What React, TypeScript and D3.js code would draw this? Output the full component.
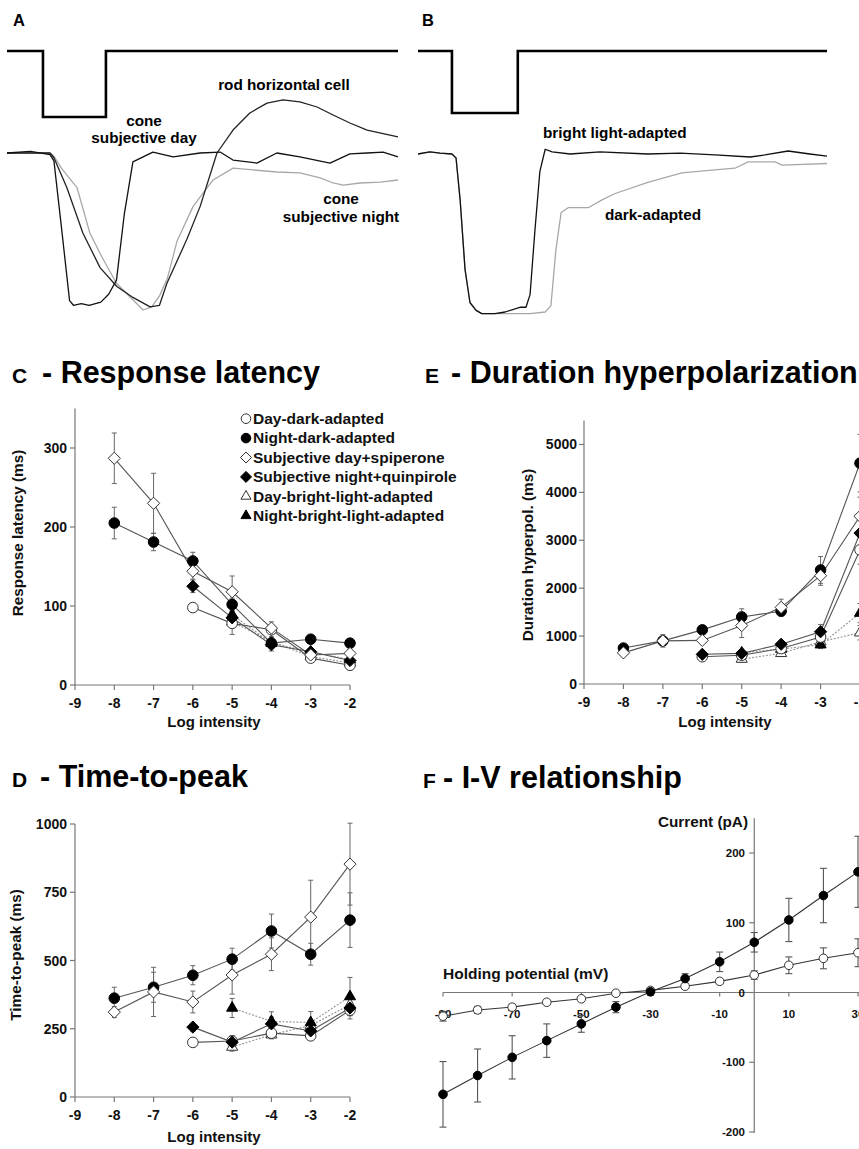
import React from "react";
import * as d3 from "d3";

const FONT = '"Liberation Sans", Arial, Helvetica, sans-serif';

// ---------------- Panels A & B (t: % of sweep, v: % of max hyperpolarization)
const STIM_A = [
  { t: 0, level: 1 }, { t: 9.2, level: 1 }, { t: 9.2, level: 0 },
  { t: 25.3, level: 0 }, { t: 25.3, level: 1 }, { t: 100, level: 1 },
];
const CONE_DAY: [number, number][] = [
  [0, 0], [6, 1], [11, -1], [12, -5], [14, -49], [16, -94], [17, -97], [19, -96], [21, -97],
  [24, -95], [26, -90], [28, -81], [30, -39], [32.2, -5.7], [37.3, 0.6], [42.5, -2.5], [49.4, 0],
  [54.5, 0.6], [57.8, -4.5], [63.9, -6.4], [69, 0], [74.9, -2.5], [82.6, -6.4], [87.7, -0.6],
  [92.1, 0], [96.2, 0.6], [100, -2.5],
];
const CONE_NIGHT: [number, number][] = [
  [0, 0], [11, 0], [12, -2], [14, -10], [17.9, -22], [21.2, -51], [24, -65], [28, -83], [32, -93],
  [34.8, -100], [37, -98], [39, -91], [41, -80], [43.5, -56], [47.6, -34], [51.2, -22], [52.7, -17.2],
  [57.8, -9.6], [63, -10.8], [69, -12.1], [74.9, -12.7], [80.1, -15.9], [83.4, -19.1], [86, -20.4],
  [90.3, -19.1], [95.4, -18.5], [100, -17.2],
];
const ROD_HC: [number, number][] = [
  [0, 0], [11, 0], [12, -3], [15.3, -22], [19.4, -51], [23.8, -73], [28.1, -85], [32.2, -92],
  [36.6, -98], [39, -97], [40.9, -83], [46, -55], [49.4, -34], [53.7, 0], [57.8, 14.6], [62.1, 25.5],
  [66.5, 31.8], [70.6, 33.8], [74.9, 32.5], [79.3, 29.3], [83.4, 24.2], [87.7, 19.1], [92.1, 14.6],
  [100, 10.2],
];
const STIM_B = [
  { t: 0, level: 1 }, { t: 8.3, level: 1 }, { t: 8.3, level: 0 },
  { t: 24.4, level: 0 }, { t: 24.4, level: 1 }, { t: 100, level: 1 },
];
const B_ONSET: [number, number][] = [
  [0, 0], [2.9, 1.3], [5.4, 0.6], [8.3, 0], [9.3, -2.5], [10.3, -29], [11.5, -73], [12.7, -94],
  [14.2, -99], [15.6, -101],
];
const BRIGHT_ADAPTED: [number, number][] = [
  ...B_ONSET, [18.8, -101], [21.3, -100], [24.9, -97], [26.4, -97], [27.4, -89], [28.6, -48],
  [29.8, -11], [31.1, 3], [32.8, 1.3], [37.2, 0], [44.5, 1.3], [56.2, 0], [64.1, 0.6], [72.6, -0.6],
  [81.2, -1.9], [84.8, -0.6], [90.5, 1.9], [95.8, 0], [100, -1.3],
];
const DARK_ADAPTED: [number, number][] = [
  ...B_ONSET, [20, -101], [27.4, -101], [31.1, -100], [32.5, -96], [33.7, -61], [35, -37],
  [36.7, -34], [41.6, -34], [45, -29], [48.2, -25], [56.2, -18], [64.5, -12], [72.6, -10],
  [77.5, -9], [80.7, -5], [87.3, -5], [89, -7], [100, -6],
];

// ---------------- Panels C, D, E
const LOG_I = [-8, -7, -6, -5, -4, -3, -2];
const X_TICKS = [-9, -8, -7, -6, -5, -4, -3, -2];
const LEGEND_LABELS = [
  "Day-dark-adapted", "Night-dark-adapted", "Subjective day+spiperone",
  "Subjective night+quinpirole", "Day-bright-light-adapted", "Night-bright-light-adapted",
];
type Kind = "circleOpen" | "circleFilled" | "diamondOpen" | "diamondFilled" | "triangleOpen" | "triangleFilled";
const KINDS: Kind[] = ["circleOpen", "circleFilled", "diamondOpen", "diamondFilled", "triangleOpen", "triangleFilled"];
const DOTTED = [false, false, false, false, true, true];

// C - Response latency (ms)
const LAT_DAY_DARK = [null, null, 98, 78, 70, 34, 25];
const LAT_NIGHT_DARK = [205, 181, 157, 102, 53, 58, 53];
const LAT_SPIP = [287, 230, 144, 118, 72, 38, 40];
const LAT_QUIN = [null, null, 125, 85, 51, 42, 31];
const LAT_DAY_BRIGHT = [null, null, null, 80, 55, 36, 28];
const LAT_NIGHT_BRIGHT = [null, null, null, 89, 53, 42, 32];
const LAT_ERR_DAY_DARK = [0, 0, 4, 5, 5, 4, 4];
const LAT_ERR_NIGHT_DARK = [20, 11, 11, 8, 6, 4, 4];
const LAT_ERR_SPIP = [32, 38, 10, 20, 8, 5, 4];
const LAT_ERR_QUIN = [0, 0, 8, 8, 8, 4, 4];
const LAT_ERR_DAY_BRIGHT = [0, 0, 0, 16, 6, 4, 4];
const LAT_ERR_NIGHT_BRIGHT = [0, 0, 0, 10, 6, 4, 4];

// D - Time-to-peak (ms)
const TTP_DAY_DARK = [null, null, 200, 205, 234, 224, 318];
const TTP_NIGHT_DARK = [362, 402, 446, 505, 608, 523, 648];
const TTP_SPIP = [311, 385, 348, 447, 523, 659, 853];
const TTP_QUIN = [null, null, 256, 201, 268, 242, 326];
const TTP_DAY_BRIGHT = [null, null, null, 183, 228, 262, 338];
const TTP_NIGHT_BRIGHT = [null, null, null, 326, 277, 273, 368];
const TTP_ERR_DAY_DARK = [0, 0, 10, 20, 15, 15, 20];
const TTP_ERR_NIGHT_DARK = [40, 55, 35, 40, 62, 40, 100];
const TTP_ERR_SPIP = [20, 90, 40, 70, 60, 135, 150];
const TTP_ERR_QUIN = [0, 0, 15, 15, 25, 20, 40];
const TTP_ERR_DAY_BRIGHT = [0, 0, 0, 15, 15, 20, 25];
const TTP_ERR_NIGHT_BRIGHT = [0, 0, 0, 35, 35, 40, 70];

// E - Duration hyperpolarization (ms)
const DUR_DAY_DARK = [null, null, 570, 600, 740, 980, 2800];
const DUR_NIGHT_DARK = [750, 900, 1130, 1400, 1520, 2380, 4610];
const DUR_SPIP = [650, 900, 910, 1220, 1600, 2260, 3500];
const DUR_QUIN = [null, null, 620, 640, 830, 1090, 3150];
const DUR_DAY_BRIGHT = [null, null, null, 520, 640, 880, 1070];
const DUR_NIGHT_BRIGHT = [null, null, null, 650, 730, 820, 1480];
const DUR_ERR_DAY_DARK = [0, 0, 40, 40, 50, 100, 300];
const DUR_ERR_NIGHT_DARK = [50, 60, 80, 170, 100, 280, 600];
const DUR_ERR_SPIP = [40, 130, 60, 250, 170, 200, 400];
const DUR_ERR_QUIN = [0, 0, 40, 50, 60, 150, 400];
const DUR_ERR_DAY_BRIGHT = [0, 0, 0, 60, 60, 80, 150];
const DUR_ERR_NIGHT_BRIGHT = [0, 0, 0, 60, 60, 80, 200];

// ---------------- Panel F - I-V relationship
const HOLD_MV = [-90, -80, -70, -60, -50, -40, -30, -20, -10, 0, 10, 20, 30];
const IV_FILLED = [-146, -119, -93, -69, -45, -21, 1, 20, 44, 72, 104, 139, 173];
const IV_FILLED_ERR = [47, 38, 31, 24, 12, 8, 5, 7, 14, 14, 31, 39, 51];
const IV_OPEN = [-34, -25, -21, -14, -9, -1, 3, 9, 16, 25, 39, 49, 57];
const IV_OPEN_ERR = [7, 5, 4, 3, 3, 2, 3, 3, 4, 6, 12, 15, 20];
const IV_X_LABELS = [-90, -70, -50, -30, -10, 10, 30];
const IV_Y_TICKS = [-200, -100, 0, 100, 200];

function Marker({ kind, cx, cy, s }: { kind: Kind; cx: number; cy: number; s: number }) {
  const filled = kind.endsWith("Filled");
  const fill = filled ? "#000" : "#fff";
  const stroke = filled ? "#000" : "#333";
  if (kind.startsWith("circle")) {
    return <circle cx={cx} cy={cy} r={s} fill={fill} stroke={stroke} strokeWidth={1} />;
  }
  if (kind.startsWith("diamond")) {
    const d = s * 1.15;
    return (
      <path d={`M${cx},${cy - d}L${cx + d},${cy}L${cx},${cy + d}L${cx - d},${cy}Z`}
        fill={fill} stroke={stroke} strokeWidth={1} />
    );
  }
  const a = s * 2.1;
  const h = a * 0.866;
  return (
    <path d={`M${cx},${cy - (2 * h) / 3}L${cx + a / 2},${cy + h / 3}L${cx - a / 2},${cy + h / 3}Z`}
      fill={fill} stroke={stroke} strokeWidth={1} />
  );
}

function LogPanel({
  x0, x1, yBottom, yTop, yMax, yTicks, values, errors, yLabel, yLabelX, yLabelY, tickRight, xLabelX, xLabelY,
}: any) {
  const x = d3.scaleLinear().domain([-9, -2]).range([x0, x1]);
  const y = d3.scaleLinear().domain([0, yMax]).range([yBottom, yTop]);
  const axisColor = "#777";
  const series = values.map((vals: (number | null)[], si: number) =>
    LOG_I.map((li, i) => ({ li, v: vals[i], e: errors[si][i] })).filter((p) => p.v != null)
  );
  const line = d3.line<any>().x((p) => x(p.li)).y((p) => y(p.v));
  const order = [4, 5, 0, 3, 1, 2];
  return (
    <g>
      {/* axes */}
      <line x1={x0} x2={x0} y1={y(0)} y2={y(yMax)} stroke={axisColor} strokeWidth={1.2} />
      <line x1={x(-9)} x2={x(-2)} y1={y(0)} y2={y(0)} stroke={axisColor} strokeWidth={1.2} />
      {yTicks.map((t: number) => (
        <g key={"yt" + t}>
          <line x1={x0 - 5} x2={x0} y1={y(t)} y2={y(t)} stroke={axisColor} strokeWidth={1.2} />
          <text x={tickRight} y={y(t)} dy="0.36em" textAnchor="end" fontSize={14} fontWeight="bold" fill="#111">
            {t}
          </text>
        </g>
      ))}
      {X_TICKS.map((t) => (
        <g key={"xt" + t}>
          <line x1={x(t)} x2={x(t)} y1={y(0)} y2={y(0) + 5} stroke={axisColor} strokeWidth={1.2} />
          <text x={x(t)} y={y(0) + 23} textAnchor="middle" fontSize={14} fontWeight="bold" fill="#111">
            {t}
          </text>
        </g>
      ))}
      <text x={xLabelX} y={xLabelY} textAnchor="middle" fontSize={15} fontWeight="bold" fill="#111">
        Log intensity
      </text>
      <text transform={`translate(${yLabelX},${yLabelY}) rotate(-90)`} dy="0.36em" textAnchor="middle"
        fontSize={15.3} fontWeight="bold" fill="#111">
        {yLabel}
      </text>
      {/* lines */}
      {order.map((si) => (
        <path key={"l" + si} d={line(series[si]) || ""} fill="none"
          stroke={DOTTED[si] ? "#999" : "#555"} strokeWidth={DOTTED[si] ? 1.2 : 1.1}
          strokeDasharray={DOTTED[si] ? "2,1.5" : undefined} />
      ))}
      {/* error bars */}
      {order.map((si) =>
        series[si].filter((p: any) => p.e > 0).map((p: any, i: number) => (
          <g key={"e" + si + "-" + i} stroke="#666" strokeWidth={1}>
            <line x1={x(p.li)} x2={x(p.li)} y1={y(p.v - p.e)} y2={y(p.v + p.e)} />
            <line x1={x(p.li) - 2.5} x2={x(p.li) + 2.5} y1={y(p.v - p.e)} y2={y(p.v - p.e)} />
            <line x1={x(p.li) - 2.5} x2={x(p.li) + 2.5} y1={y(p.v + p.e)} y2={y(p.v + p.e)} />
          </g>
        ))
      )}
      {/* markers */}
      {order.map((si) =>
        series[si].map((p: any, i: number) => (
          <Marker key={"m" + si + "-" + i} kind={KINDS[si]} cx={x(p.li)} cy={y(p.v)} s={5.3} />
        ))
      )}
    </g>
  );
}

function TracePanel({ x0, x1, base, bottom, stimHigh, stimLow, stim, traces }: any) {
  const tx = d3.scaleLinear().domain([0, 100]).range([x0, x1]);
  const ty = d3.scaleLinear().domain([-100, 0]).range([bottom, base]);
  const sy = d3.scaleLinear().domain([0, 1]).range([stimLow, stimHigh]);
  const stimLine = d3.line<any>().x((d) => tx(d.t)).y((d) => sy(d.level));
  const trLine = d3.line<[number, number]>().x((d) => tx(d[0])).y((d) => ty(d[1]));
  return (
    <g>
      <path d={stimLine(stim) || ""} fill="none" stroke="#000" strokeWidth={2.6} />
      {traces.map((tr: any, i: number) => (
        <path key={i} d={trLine(tr.data) || ""} fill="none" stroke={tr.color} strokeWidth={1.3}
          strokeLinejoin="round" />
      ))}
    </g>
  );
}

export default function App() {
  // Panel F scales
  const fx = d3.scaleLinear().domain([-90, 30]).range([443, 858]);
  const fy = d3.scaleLinear().domain([-200, 200]).range([1132, 853]);
  const ivLine = d3.line<number>().x((_, i) => fx(HOLD_MV[i])).y((v) => fy(v));

  const legendBase = 424;
  const legendStep = 19.4;

  return (
    <div style={{ position: "absolute", left: 0, top: 0, width: 859, height: 1149, overflow: "hidden" }}>
      <svg width={859} height={1149} fontFamily={FONT} style={{ display: "block" }}>
        <rect x={0} y={0} width={859} height={1149} fill="#fff" />

        {/* ---- A ---- */}
        <text x={13} y={26} fontSize={16.5} fontWeight="bold">A</text>
        <TracePanel x0={7} x1={398} base={153} bottom={310} stimHigh={51} stimLow={117} stim={STIM_A}
          traces={[
            { data: CONE_NIGHT, color: "#a8a8a8" },
            { data: ROD_HC, color: "#222" },
            { data: CONE_DAY, color: "#111" },
          ]} />
        <text x={284} y={90} textAnchor="middle" fontSize={15.3} fontWeight="bold">rod horizontal cell</text>
        <text x={144} y={126} textAnchor="middle" fontSize={15.3} fontWeight="bold">cone</text>
        <text x={144} y={143} textAnchor="middle" fontSize={15.3} fontWeight="bold">subjective day</text>
        <text x={341} y={204} textAnchor="middle" fontSize={15.3} fontWeight="bold">cone</text>
        <text x={341} y={222} textAnchor="middle" fontSize={15.3} fontWeight="bold">subjective night</text>

        {/* ---- B ---- */}
        <text x={422} y={26} fontSize={16.5} fontWeight="bold">B</text>
        <TracePanel x0={418} x1={827} base={154} bottom={312} stimHigh={51} stimLow={113} stim={STIM_B}
          traces={[
            { data: DARK_ADAPTED, color: "#a8a8a8" },
            { data: BRIGHT_ADAPTED, color: "#111" },
          ]} />
        <text x={543} y={138} fontSize={15.3} fontWeight="bold">bright light-adapted</text>
        <text x={605} y={220} fontSize={15.3} fontWeight="bold">dark-adapted</text>

        {/* ---- titles ---- */}
        <text x={12} y={383} fontSize={21} fontWeight="bold">C</text>
        <text x={42} y={383} fontSize={30.5} fontWeight="bold">- Response latency</text>
        <text x={425} y={383} fontSize={21} fontWeight="bold">E</text>
        <text x={451} y={383} fontSize={30.5} fontWeight="bold">- Duration hyperpolarization</text>
        <text x={12} y={787} fontSize={21} fontWeight="bold">D</text>
        <text x={40} y={787} fontSize={30.5} fontWeight="bold">- Time-to-peak</text>
        <text x={423} y={788} fontSize={21} fontWeight="bold">F</text>
        <text x={443} y={788} fontSize={30.5} fontWeight="bold">- I-V relationship</text>

        {/* ---- C ---- */}
        <LogPanel x0={75} x1={350} yBottom={685} yTop={408.5} yMax={350} yTicks={[0, 100, 200, 300]}
          values={[LAT_DAY_DARK, LAT_NIGHT_DARK, LAT_SPIP, LAT_QUIN, LAT_DAY_BRIGHT, LAT_NIGHT_BRIGHT]}
          errors={[LAT_ERR_DAY_DARK, LAT_ERR_NIGHT_DARK, LAT_ERR_SPIP, LAT_ERR_QUIN, LAT_ERR_DAY_BRIGHT, LAT_ERR_NIGHT_BRIGHT]}
          yLabel="Response latency (ms)" yLabelX={17.5} yLabelY={533} tickRight={67} xLabelX={214} xLabelY={727} />

        {/* legend */}
        {LEGEND_LABELS.map((lab, i) => (
          <g key={"lg" + i}>
            <Marker kind={KINDS[i]} cx={246} cy={legendBase + i * legendStep - 5.3} s={4.8} />
            <text x={253} y={legendBase + i * legendStep} fontSize={15.5} fontWeight="bold" fill="#111">{lab}</text>
          </g>
        ))}

        {/* ---- E ---- */}
        <LogPanel x0={584} x1={860} yBottom={684} yTop={420.5} yMax={5500} yTicks={[0, 1000, 2000, 3000, 4000, 5000]}
          values={[DUR_DAY_DARK, DUR_NIGHT_DARK, DUR_SPIP, DUR_QUIN, DUR_DAY_BRIGHT, DUR_NIGHT_BRIGHT]}
          errors={[DUR_ERR_DAY_DARK, DUR_ERR_NIGHT_DARK, DUR_ERR_SPIP, DUR_ERR_QUIN, DUR_ERR_DAY_BRIGHT, DUR_ERR_NIGHT_BRIGHT]}
          yLabel="Duration hyperpol. (ms)" yLabelX={527} yLabelY={555} tickRight={577} xLabelX={725} xLabelY={727} />

        {/* ---- D ---- */}
        <LogPanel x0={75} x1={350} yBottom={1097} yTop={824} yMax={1000} yTicks={[0, 250, 500, 750, 1000]}
          values={[TTP_DAY_DARK, TTP_NIGHT_DARK, TTP_SPIP, TTP_QUIN, TTP_DAY_BRIGHT, TTP_NIGHT_BRIGHT]}
          errors={[TTP_ERR_DAY_DARK, TTP_ERR_NIGHT_DARK, TTP_ERR_SPIP, TTP_ERR_QUIN, TTP_ERR_DAY_BRIGHT, TTP_ERR_NIGHT_BRIGHT]}
          yLabel="Time-to-peak (ms)" yLabelX={15} yLabelY={955} tickRight={67} xLabelX={214} xLabelY={1142} />

        {/* ---- F ---- */}
        <g>
          <line x1={fx(-90)} x2={fx(34)} y1={fy(0)} y2={fy(0)} stroke="#777" strokeWidth={1.2} />
          <line x1={fx(0)} x2={fx(0)} y1={fy(-201)} y2={fy(250)} stroke="#777" strokeWidth={1.2} />
          {IV_Y_TICKS.map((t) => (
            <g key={"fy" + t}>
              <line x1={fx(0) - 5} x2={fx(0)} y1={fy(t)} y2={fy(t)} stroke="#777" strokeWidth={1.2} />
              <text x={745} y={fy(t)} dy="0.36em" textAnchor="end" fontSize={11.5} fontWeight="bold" fill="#111">{t}</text>
            </g>
          ))}
          {IV_X_LABELS.map((t) => (
            <g key={"fx" + t}>
              <line x1={fx(t)} x2={fx(t)} y1={fy(0)} y2={fy(0) + 4} stroke="#777" strokeWidth={1.2} />
              <text x={fx(t)} y={1018} textAnchor="middle" fontSize={11.5} fontWeight="bold" fill="#111">{t}</text>
            </g>
          ))}
          <text x={443} y={979} fontSize={15.5} fontWeight="bold" fill="#111">Holding potential (mV)</text>
          <text x={748} y={827} textAnchor="end" fontSize={15.3} fontWeight="bold" fill="#111">Current (pA)</text>

          <path d={ivLine(IV_OPEN) || ""} fill="none" stroke="#333" strokeWidth={1.1} />
          <path d={ivLine(IV_FILLED) || ""} fill="none" stroke="#333" strokeWidth={1.1} />
          {[{ v: IV_OPEN, e: IV_OPEN_ERR }, { v: IV_FILLED, e: IV_FILLED_ERR }].map((s, si) =>
            s.v.map((v, i) => (
              <g key={"fe" + si + i} stroke="#555" strokeWidth={1.1}>
                <line x1={fx(HOLD_MV[i])} x2={fx(HOLD_MV[i])} y1={fy(v - s.e[i])} y2={fy(v + s.e[i])} />
                <line x1={fx(HOLD_MV[i]) - 3.5} x2={fx(HOLD_MV[i]) + 3.5} y1={fy(v - s.e[i])} y2={fy(v - s.e[i])} />
                <line x1={fx(HOLD_MV[i]) - 3.5} x2={fx(HOLD_MV[i]) + 3.5} y1={fy(v + s.e[i])} y2={fy(v + s.e[i])} />
              </g>
            ))
          )}
          {IV_OPEN.map((v, i) => (
            <Marker key={"fo" + i} kind="circleOpen" cx={fx(HOLD_MV[i])} cy={fy(v)} s={4.3} />
          ))}
          {IV_FILLED.map((v, i) => (
            <Marker key={"ff" + i} kind="circleFilled" cx={fx(HOLD_MV[i])} cy={fy(v)} s={4.3} />
          ))}
        </g>
      </svg>
    </div>
  );
}
